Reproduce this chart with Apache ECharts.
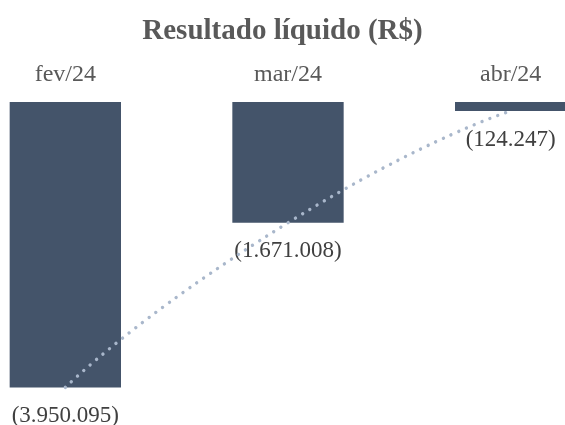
<!DOCTYPE html>
<html>
<head>
<meta charset="utf-8">
<script src="https://cdn.jsdelivr.net/npm/echarts@6/dist/echarts.min.js"></script>
<style>html,body{margin:0;padding:0;background:#fff}#c{width:565px;height:425px}</style>
</head>
<body>
<div id="c"></div>
<script>
const categories = ['fev/24', 'mar/24', 'abr/24'];
const values = [-3950095, -1671008, -124247];
const titleText = 'Resultado líquido (R$)';

const FONT = '"Liberation Serif", "Times New Roman", serif';
function fmt(v) {
  const s = Math.abs(v).toString().replace(/\B(?=(\d{3})+(?!\d))/g, '.');
  return v < 0 ? '(' + s + ')' : s;
}
const chart = echarts.init(document.getElementById('c'), null, {renderer: 'canvas'});
chart.setOption({
  animation: false,
  backgroundColor: '#fff',
  title: {
    text: titleText,
    left: 'center',
    top: 12,
    padding: [5, 5, 5, 12],
    textStyle: {fontFamily: FONT, fontSize: 29, fontWeight: 'bold', color: '#595959'}
  },
  grid: {left: -46, right: -57, top: 102, bottom: 34, outerBoundsMode: 'none', containLabel: false},
  xAxis: {
    type: 'category',
    data: categories,
    position: 'top',
    axisLine: {show: false},
    axisTick: {show: false},
    axisLabel: {fontFamily: FONT, fontSize: 24, color: '#595959', margin: 15}
  },
  yAxis: {
    type: 'value',
    min: -4000000,
    max: 0,
    show: false,
    splitLine: {show: false}
  },
  series: [
    {
      type: 'bar',
      data: values,
      barWidth: '50%',
      itemStyle: {color: '#44546A'},
      label: {
        show: true,
        position: 'outside',
        distance: 17,
        fontFamily: FONT,
        fontSize: 23,
        color: '#404040',
        formatter: p => fmt(p.value)
      },
      z: 2
    },
    {
      type: 'line',
      data: values,
      smooth: 0.65,
      symbol: 'none',
      lineStyle: {color: '#A9B7CB', width: 3.4, type: [0.01, 8.4], cap: 'round'},
      z: 3
    }
  ]
});
</script>
</body>
</html>
